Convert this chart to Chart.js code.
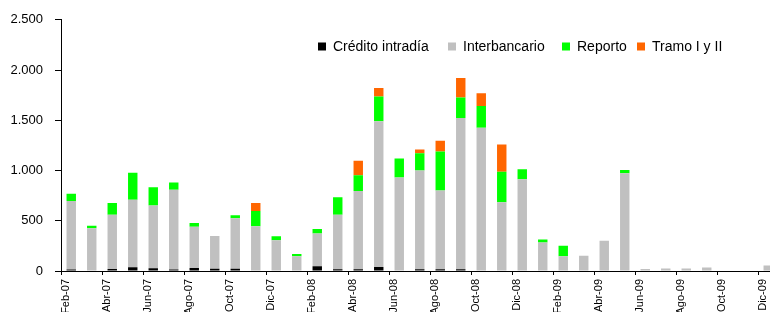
<!DOCTYPE html>
<html><head><meta charset="utf-8">
<script src="https://cdn.jsdelivr.net/npm/chart.js@4.4.0/dist/chart.umd.min.js"></script>
<style>
html,body{margin:0;padding:0;overflow:hidden;background:#fff;width:770px;height:312px;}
#wrap{position:absolute;left:0;top:0;width:790px;height:312px;}
</style></head><body>
<div id="wrap"><canvas id="c"></canvas></div>
<script>
const categories = ['Feb-07','Mar-07','Abr-07','May-07','Jun-07','Jul-07','Ago-07','Sep-07','Oct-07','Nov-07','Dic-07',
  'Ene-08','Feb-08','Mar-08','Abr-08','May-08','Jun-08','Jul-08','Ago-08','Sep-08','Oct-08','Nov-08','Dic-08',
  'Ene-09','Feb-09','Mar-09','Abr-09','May-09','Jun-09','Jul-09','Ago-09','Sep-09','Oct-09','Nov-09','Dic-09'];
const creditoIntradia = [15,0,20,37,28,15,31,22,22,0,0, 0,47,18,18,41,0,18,18,18,0,0,0, 0,0,0,0,0,0,0,0,0,0,0,0];
const interbancario   = [682,425,539,673,623,794,410,327,504,445,307, 146,325,541,777,1450,930,981,784,1505,1425,684,913, 283,146,152,300,972,20,25,25,35,0,0,54];
const reporto         = [73,26,118,269,183,72,36,0,30,153,39, 23,46,174,158,246,190,174,387,204,216,305,99, 30,105,0,0,33,0,0,0,0,0,0,0];
const tramo           = [0,0,0,0,0,0,0,0,0,79,0, 0,0,0,144,85,0,35,108,193,128,269,0, 0,0,0,0,0,0,0,0,0,0,0,0];
const seriesNames = ['Crédito intradía','Interbancario','Reporto','Tramo I y II'];
const yTickValues = [0,500,1000,1500,2000,2500];
const yTickLabels = ['0','500','1.000','1.500','2.000','2.500'];

const customLegend = {
  id: 'customLegend',
  afterDraw(chart, args, opts) {
    const ctx = chart.ctx;
    ctx.save();
    ctx.font = opts.font;
    ctx.textBaseline = 'middle';
    ctx.textAlign = 'left';
    chart.data.datasets.forEach((ds, i) => {
      const x = opts.xs[i];
      ctx.fillStyle = ds.backgroundColor;
      ctx.fillRect(x, opts.y - opts.box / 2, opts.box, opts.box);
      ctx.fillStyle = '#000';
      ctx.fillText(ds.label, x + opts.box + opts.gap, opts.y + 0.5);
    });
    ctx.restore();
  }
};

const colors = ['#000000', '#C0C0C0', '#00FF00', '#FF6600'];
const seriesData = [creditoIntradia, interbancario, reporto, tramo];

new Chart(document.getElementById('c'), {
  type: 'bar',
  data: {
    labels: categories,
    datasets: seriesData.map((d, i) => ({
      label: seriesNames[i],
      data: d,
      backgroundColor: colors[i],
      borderWidth: 0,
      categoryPercentage: 1,
      barPercentage: 0.46
    }))
  },
  options: {
    animation: false,
    responsive: true,
    maintainAspectRatio: false,
    devicePixelRatio: 1,
    layout: { padding: { top: 17, right: 11.5, bottom: 0, left: 0 } },
    plugins: {
      legend: { display: false },
      tooltip: { enabled: false },
      customLegend: {
        font: '14px "Liberation Sans", Arial, sans-serif',
        xs: [318, 448, 562, 637],
        y: 46.5,
        box: 8,
        gap: 7
      }
    },
    scales: {
      x: {
        stacked: true,
        afterFit: s => { s.height = 41; },
        grid: {
          display: true,
          drawOnChartArea: false,
          drawTicks: true,
          tickLength: 4,
          offset: true,
          tickColor: c => (c.index !== undefined && c.index % 2 === 0) ? '#000' : 'rgba(0,0,0,0)',
          color: '#000'
        },
        border: { display: true, color: '#000', width: 1 },
        ticks: {
          autoSkip: false,
          maxRotation: 90,
          minRotation: 90,
          padding: 4,
          labelOffset: -5,
          color: '#000',
          font: { family: '"Liberation Sans", Arial, sans-serif', size: 11 },
          callback: (v, i) => i % 2 === 0 ? categories[i] : ''
        }
      },
      y: {
        stacked: true,
        min: 0,
        max: 2500,
        afterFit: s => { s.width = 61; },
        grid: {
          display: true,
          drawOnChartArea: false,
          drawTicks: true,
          tickLength: 6,
          color: '#000',
          tickColor: '#000'
        },
        border: { display: true, color: '#000', width: 1 },
        ticks: {
          stepSize: 500,
          padding: 12,
          color: '#000',
          font: { family: '"Liberation Sans", Arial, sans-serif', size: 13 },
          callback: v => { const k = yTickValues.indexOf(v); return k >= 0 ? yTickLabels[k] : ''; }
        }
      }
    }
  },
  plugins: [customLegend]
});
</script>
</body></html>
